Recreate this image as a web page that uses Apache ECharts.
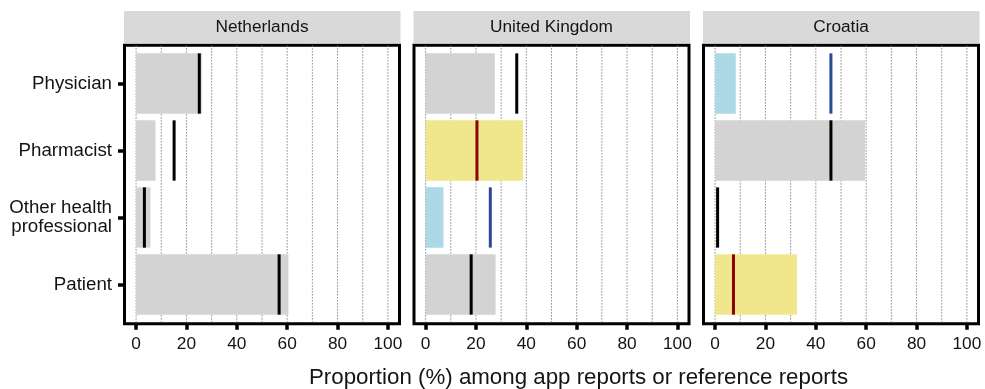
<!DOCTYPE html>
<html>
<head>
<meta charset="utf-8">
<script src="https://cdn.jsdelivr.net/npm/echarts@6/dist/echarts.min.js"></script>
<style>
  html, body { margin: 0; padding: 0; background: #fff; }
  #chart { width: 985px; height: 389px; }
</style>
</head>
<body>
<div id="chart"></div>
<script>
// Reporter roles (rows) and countries (panels)
const roles = ['Physician', 'Pharmacist', 'Other health\nprofessional', 'Patient'];
const countries = ['Netherlands', 'United Kingdom', 'Croatia'];
const xTicks = [0, 20, 40, 60, 80, 100];
const gridValues = [0, 10, 20, 30, 40, 50, 60, 70, 80, 90, 100];

// Share (%) of each reporter role among app reports (bars)
// and among reference reports (vertical line), per country.
// Status: 'ns' = no difference, 'higher' / 'lower' = app share vs reference.
const appNL = [26.1, 7.7, 5.7, 60.5];
const refNL = [25.1, 15.1, 3.3, 56.8];
const sigNL = ['ns', 'ns', 'ns', 'ns'];

const appUK = [27.5, 38.7, 7.1, 27.8];
const refUK = [36.2, 20.4, 25.7, 18.1];
const sigUK = ['ns', 'higher', 'lower', 'ns'];

const appHR = [8.2, 59.6, 0, 32.5];
const refHR = [46.0, 46.0, 1.0, 7.3];
const sigHR = ['lower', 'ns', 'ns', 'higher'];

const appData = [appNL, appUK, appHR];
const refData = [refNL, refUK, refHR];
const sigData = [sigNL, sigUK, sigHR];

const barFill = { ns: '#d3d3d3', higher: '#f0e68c', lower: '#add8e6' };
const lineColor = { ns: '#000000', higher: '#8b0000', lower: '#2b4a94' };

const FONT = "'Liberation Sans', Arial, Helvetica, sans-serif";
const TXT = '#141414';

// Panel layout
const panelLeft = [124.5, 414, 703.5];
const panelW = 275;
const panelTop = 45.3;
const panelH = 278.4;
const BAR_HALF = 0.45;

const grids = [], xAxes = [], yAxes = [], series = [], graphics = [];

function gridLineItem(params, api) {
  const cs = params.coordSys;
  const x = api.coord([api.value(0), 1])[0];
  return {
    type: 'line',
    shape: { x1: x, y1: cs.y, x2: x, y2: cs.y + cs.height },
    style: { stroke: '#6e6e6e', lineWidth: 1, lineDash: [1.2, 1.8] },
    silent: true
  };
}

function barItem(params, api) {
  const v = api.value(0), r = api.value(1);
  const p0 = api.coord([0, r - BAR_HALF]);
  const p1 = api.coord([v, r + BAR_HALF]);
  return {
    type: 'rect',
    shape: {
      x: p0[0], y: Math.min(p0[1], p1[1]),
      width: p1[0] - p0[0], height: Math.abs(p1[1] - p0[1])
    },
    style: { fill: api.visual('color') }
  };
}

function refItem(params, api) {
  const v = api.value(0), r = api.value(1);
  const p0 = api.coord([v, r - BAR_HALF]);
  const p1 = api.coord([v, r + BAR_HALF]);
  return {
    type: 'rect',
    shape: {
      x: p0[0] - 1.5, y: Math.min(p0[1], p1[1]),
      width: 3, height: Math.abs(p1[1] - p0[1])
    },
    style: { fill: api.visual('color') }
  };
}

countries.forEach((name, i) => {
  grids.push({
    left: panelLeft[i], top: panelTop, width: panelW, height: panelH,
    show: true, borderColor: '#000', borderWidth: 3, backgroundColor: '#fff'
  });
  xAxes.push({
    type: 'value', gridIndex: i, min: -4.6, max: 104.6,
    splitLine: { show: false },
    axisLine: { show: false, onZero: false },
    axisTick: { show: true, customValues: xTicks, length: 6, inside: false,
                lineStyle: { color: '#000', width: 3.5 } },
    axisLabel: { customValues: xTicks, fontSize: 17.3, fontFamily: FONT,
                 color: TXT, margin: 12.5 }
  });
  yAxes.push({
    type: 'value', gridIndex: i, min: 0.43, max: 4.585, inverse: true,
    splitLine: { show: false },
    axisLine: { show: false, onZero: false },
    axisTick: { show: i === 0, customValues: [1, 2, 3, 4], length: 6.5,
                lineStyle: { color: '#000', width: 3.5 } },
    axisLabel: { show: i === 0, customValues: [1, 2, 3, 4],
                 formatter: v => roles[Math.round(v) - 1],
                 fontSize: 18.7, lineHeight: 18.5, fontFamily: FONT,
                 color: TXT, margin: 12.5, align: 'right' }
  });

  series.push({
    type: 'custom', xAxisIndex: i, yAxisIndex: i, z: 1, silent: true,
    renderItem: gridLineItem,
    data: gridValues.map(v => [v])
  });
  series.push({
    type: 'custom', xAxisIndex: i, yAxisIndex: i, z: 2, silent: true,
    renderItem: barItem,
    encode: { x: 0, y: 1 },
    data: appData[i].map((v, r) => ({
      value: [v, r + 1], itemStyle: { color: barFill[sigData[i][r]] }
    }))
  });
  series.push({
    type: 'custom', xAxisIndex: i, yAxisIndex: i, z: 3, silent: true,
    renderItem: refItem,
    encode: { x: 0, y: 1 },
    data: refData[i].map((v, r) => ({
      value: [v, r + 1], itemStyle: { color: lineColor[sigData[i][r]] }
    }))
  });

  // Facet strip above each panel
  graphics.push({
    type: 'rect',
    shape: { x: panelLeft[i] - 0.5, y: 11, width: panelW + 1.5, height: 32 },
    style: { fill: '#d9d9d9' }, silent: true
  });
  graphics.push({
    type: 'text',
    x: panelLeft[i] + panelW / 2, y: 27.5,
    style: { text: name, fontSize: 17.3, fontFamily: FONT, fill: TXT,
             align: 'center', verticalAlign: 'middle' },
    silent: true
  });
});

graphics.push({
  type: 'text',
  x: 578.5, y: 378,
  style: { text: 'Proportion (%) among app reports or reference reports',
           fontSize: 22.3, fontFamily: FONT, fill: TXT,
           align: 'center', verticalAlign: 'middle' },
  silent: true
});

const chart = echarts.init(document.getElementById('chart'), null, { renderer: 'canvas' });
chart.setOption({
  animation: false,
  backgroundColor: '#fff',
  grid: grids,
  xAxis: xAxes,
  yAxis: yAxes,
  series: series,
  graphic: graphics
});
</script>
</body>
</html>
